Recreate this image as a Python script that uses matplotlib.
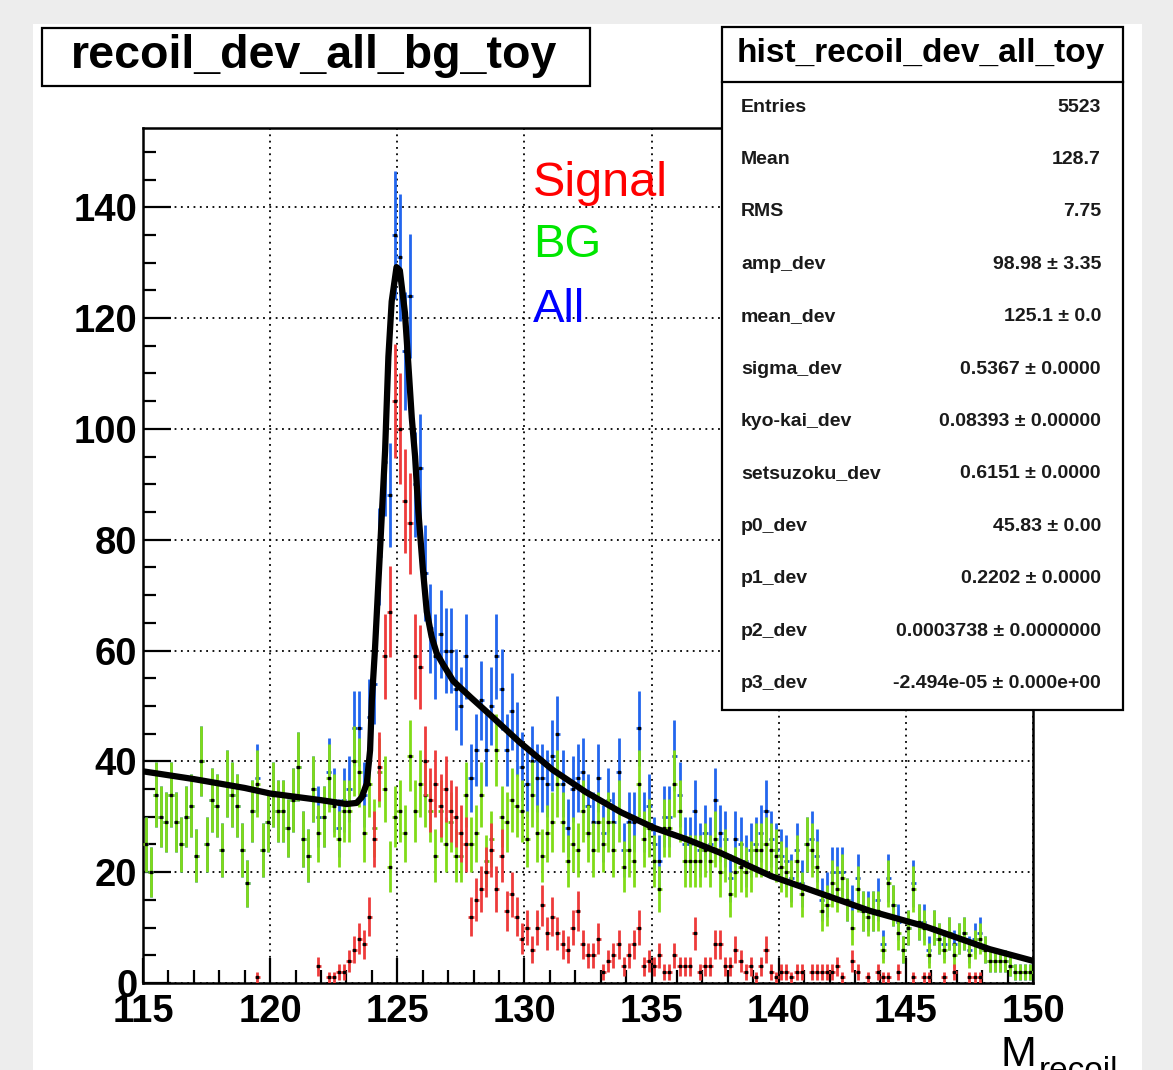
import numpy as np
import matplotlib.pyplot as plt
from matplotlib.patches import Rectangle

plt.rcParams['font.family'] = ['Liberation Sans', 'DejaVu Sans']

# histogram binning: 175 bins of 0.2 between 115 and 150
x_lo, x_hi, bin_w = 115.0, 150.0, 0.2

# signal counts per bin (red)
signal = [0] * 22 + [1] + [0] * 11 + [3] + [
    0, 1, 1, 2, 2, 4, 6, 8, 7, 12,
    26, 39, 59, 67, 105, 100, 87, 83, 59, 57,
    40, 33, 36, 32, 35, 31, 30, 27, 25, 12,
    15, 17, 20, 24, 17, 23, 13, 16, 12, 8,
    10, 6, 10, 14, 9, 12, 9, 7, 6, 10,
    13, 7, 5, 5, 8, 2, 4, 5, 7, 3,
    5, 7, 10, 3, 4, 3, 5, 2, 2, 5,
    3, 3, 3, 9, 2, 3, 3, 7, 7, 3,
    3, 6, 4, 2, 3, 1, 3, 6, 2, 1,
    2, 2, 1, 2, 2, 0, 2, 2, 2, 2,
    2, 3, 1, 0, 4, 2, 0, 1, 0, 2,
    1, 1, 0, 2, 0, 0, 1, 0, 1, 1,
    0, 0, 1, 0, 2, 0, 0, 1, 1, 1,
    0, 0, 0, 0, 0, 0, 0, 0, 0, 0,
]

# background counts per bin (green)
bg = [
    25, 20, 34, 30, 29, 34, 29, 25, 30, 32,
    23, 40, 25, 33, 32, 24, 36, 34, 32, 24,
    18, 31, 36, 24, 29, 34, 31, 31, 28, 33,
    39, 26, 23, 35, 27, 30, 37, 32, 26, 31,
    31, 40, 38, 27, 36, 28, 38, 35, 21, 30,
    31, 27, 41, 31, 36, 34, 31, 23, 31, 25,
    29, 23, 23, 34, 25, 27, 34, 22, 26, 42,
    30, 29, 33, 32, 31, 26, 34, 27, 23, 27,
    29, 36, 29, 22, 25, 24, 31, 27, 24, 29,
    25, 29, 24, 31, 21, 24, 22, 36, 26, 28,
    22, 17, 28, 28, 36, 31, 22, 22, 22, 22,
    24, 22, 26, 20, 23, 16, 20, 21, 20, 21,
    24, 24, 25, 24, 23, 21, 20, 18, 22, 16,
    25, 24, 21, 13, 14, 18, 17, 19, 15, 10,
    17, 13, 12, 13, 13, 6, 18, 14, 9, 6,
    10, 17, 11, 10, 5, 10, 8, 6, 9, 5,
    8, 9, 5, 7, 8, 6, 4, 4, 4, 4,
    3, 2, 2, 2, 2,
]

# fitted curve of the "All" histogram (black)
fit_x = [115, 117, 119, 120, 122, 123, 123.4, 123.6, 123.8, 123.93, 124.0,
         124.12, 124.32, 124.52, 124.65, 124.78, 124.97, 125.1, 125.3, 125.43,
         125.57, 125.7, 125.83, 126.0, 126.16, 126.35, 126.55, 126.8, 127.2,
         127.9, 128.6, 129.8, 131.1, 132.4, 133.8, 135.1, 136.4, 137.7, 139.7,
         141.0, 142.3, 143.6, 145.7, 147.0, 148.3, 150]
fit_y = [38.2, 36.8, 35.2, 34.2, 33.0, 32.3, 32.5, 33.5, 36, 42, 51,
         60, 78, 96, 113, 123, 129.2, 128.6, 121, 112,
         102, 95, 85, 75, 67, 62.5, 59.5, 57.5, 54.5,
         51.5, 48.6, 43.5, 38.5, 34.5, 30.8, 28, 25.9, 23.5, 19.3,
         17.2, 15.1, 13, 10.3, 8.2, 6.1, 4.0]

stat_labels = ['Entries', 'Mean', 'RMS', 'amp_dev', 'mean_dev', 'sigma_dev',
               'kyo-kai_dev', 'setsuzoku_dev', 'p0_dev', 'p1_dev', 'p2_dev', 'p3_dev']
stat_values = ['5523', '128.7', '7.75', '98.98 \u00b1 3.35', '125.1 \u00b1 0.0',
               '0.5367 \u00b1 0.0000', '0.08393 \u00b1 0.00000', '0.6151 \u00b1 0.0000',
               '45.83 \u00b1 0.00', '0.2202 \u00b1 0.0000',
               '0.0003738 \u00b1 0.0000000', '-2.494e-05 \u00b1 0.000e+00']

W, H = 1173, 1070
fig = plt.figure(figsize=(W / 100, H / 100), dpi=100)
fig.patch.set_facecolor('#ededed')

# white canvas behind everything
back = fig.add_axes([0, 0, 1, 1], zorder=0)
back.set_xlim(0, W)
back.set_ylim(H, 0)
back.axis('off')
back.add_patch(Rectangle((33, 24), 1109, 1060, facecolor='white', edgecolor='none'))

ax = fig.add_axes([143 / W, 1 - 983 / H, 890 / W, 855 / H], zorder=1)
ax.set_facecolor('none')

centers = np.arange(len(bg)) * bin_w + x_lo + bin_w / 2
sig = np.array(signal, float)
bkg = np.array(bg, float)
alls = sig + bkg


def draw_hist(vals, color, z):
    m = vals > 0
    ax.errorbar(centers[m], vals[m], xerr=bin_w / 2, yerr=np.sqrt(vals[m]),
                fmt='none', ecolor=color, elinewidth=2.0, capsize=0, zorder=z)
    ax.plot(centers[m], vals[m], 's', ms=1.6, color='k', zorder=z + 0.1)


draw_hist(alls, '#2266ee', 2)
draw_hist(bkg, '#80dc18', 3)
draw_hist(sig, '#ee3b3b', 4)
ax.plot(fit_x, fit_y, color='k', lw=4.5, zorder=6, solid_capstyle='butt')

ax.set_xlim(x_lo, x_hi)
ax.set_ylim(0, 154.3)
ax.set_xticks(np.arange(115, 151, 5))
ax.set_xticks(np.arange(115, 151, 1), minor=True)
ax.set_yticks(np.arange(0, 141, 20))
ax.set_yticks(np.arange(0, 155, 5), minor=True)
ax.set_axisbelow(True)
ax.grid(True, which='major', color='k', linestyle=(0, (1, 2.5)), lw=1.3)
ax.tick_params(which='both', direction='in', width=1.6, labelsize=27.5)
ax.tick_params(axis='x', which='major', length=18, pad=8)
ax.tick_params(axis='x', which='minor', length=9.5)
ax.tick_params(axis='y', which='major', length=20, pad=4)
ax.tick_params(axis='y', which='minor', length=9.5)
for lbl in ax.get_xticklabels() + ax.get_yticklabels():
    lbl.set_fontweight('bold')
for s in ax.spines.values():
    s.set_linewidth(1.8)

# overlay for boxes and texts, in pixel units
ov = fig.add_axes([0, 0, 1, 1], zorder=10)
ov.set_xlim(0, W)
ov.set_ylim(H, 0)
ov.axis('off')
ov.patch.set_alpha(0)

ov.add_patch(Rectangle((42, 28), 548, 58, facecolor='white', edgecolor='k', lw=1.6))
ov.text(314, 68, 'recoil_dev_all_bg_toy', ha='center', va='baseline',
        fontsize=33.5, fontweight='bold')

ov.add_patch(Rectangle((722, 27), 401, 683, facecolor='white', edgecolor='k', lw=1.6))
ov.plot([722, 1123], [82, 82], color='k', lw=1.6)
ov.text(921, 62, 'hist_recoil_dev_all_toy', ha='center', va='baseline',
        fontsize=24, fontweight='bold')
for i, (lab, val) in enumerate(zip(stat_labels, stat_values)):
    yy = 107 + 52.4 * i
    ov.text(741, yy, lab, ha='left', va='center', fontsize=14, fontweight='bold', color='#1a1a1a')
    ov.text(1101, yy, val, ha='right', va='center', fontsize=14, fontweight='bold', color='#1a1a1a')

ov.text(533, 183, 'Signal', color='#ff0000', fontsize=35, va='center', ha='left')
ov.text(533, 245, 'BG', color='#00e600', fontsize=34, va='center', ha='left')
ov.text(533, 310, 'All', color='#0000ff', fontsize=34, va='center', ha='left')

# axis title, cut by the bottom edge as in the original canvas
ov.text(1000, 1066, 'M', fontsize=31, va='baseline', ha='left')
ov.text(1039, 1080, 'recoil', fontsize=24, va='baseline', ha='left')

fig.savefig('out.png', dpi=100, facecolor=fig.get_facecolor())
